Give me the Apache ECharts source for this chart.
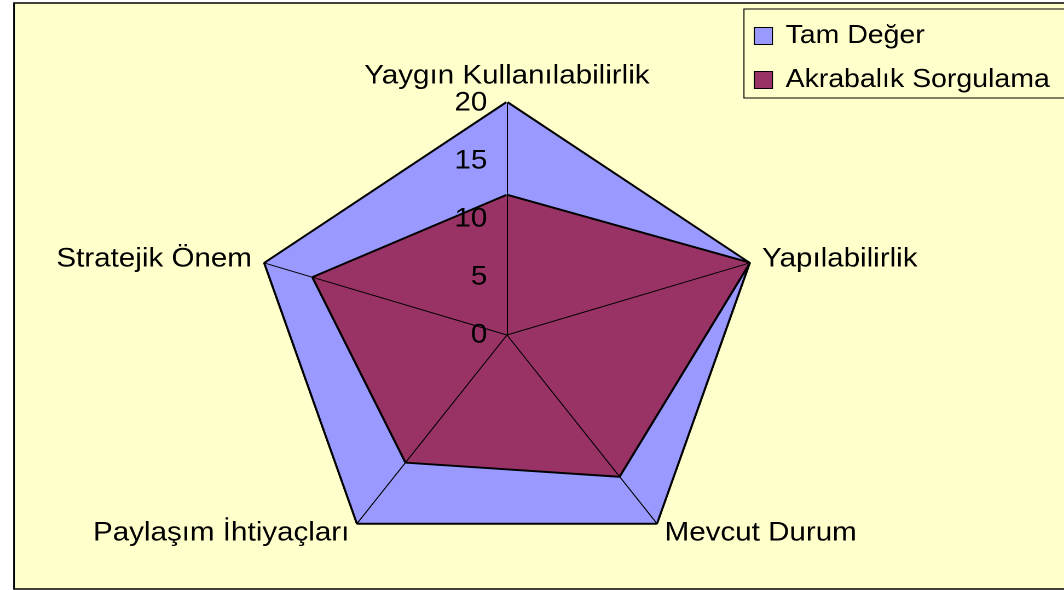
<!DOCTYPE html>
<html>
<head>
<meta charset="utf-8">
<script src="https://cdn.jsdelivr.net/npm/echarts@6/dist/echarts.min.js"></script>
<style>
  html, body { margin: 0; padding: 0; background: #ffffff; overflow: hidden; }
  #wrap { width: 1064px; height: 590px; overflow: hidden; }
  /* the reference picture is stretched horizontally by ~1.095 */
  #chart { width: 972px; height: 590px; transform: scaleX(1.0947); transform-origin: 0 0; }
</style>
</head>
<body>
<div id="wrap"><div id="chart"></div></div>
<script>
// Indicators in ECharts drawing order (counter-clockwise from top)
const categories = ['Yaygın Kullanılabilirlik', 'Stratejik Önem', 'Paylaşım İhtiyaçları', 'Mevcut Durum', 'Yapılabilirlik'];
const axisMax = 20;
const tickLabels = ['0', '5', '10', '15', '20'];
const seriesNames = ['Tam Değer', 'Akrabalık Sorgulama'];
const tamDeger = [20, 20, 20, 20, 20];
const akrabalik = [12, 16, 13.5, 15, 20];
const colors = ['#9999FF', '#993366'];

const FONT = '"Liberation Sans", Arial, sans-serif';

const chart = echarts.init(document.getElementById('chart'), null, { renderer: 'canvas', devicePixelRatio: 2 });

const indicator = categories.map((name, i) => {
  const ind = { name: name, max: axisMax, min: 0 };
  if (i === 0) {
    ind.axisLabel = {
      show: true,
      color: '#000',
      fontFamily: FONT,
      fontSize: 27,
      margin: 18,
      formatter: v => tickLabels[Math.round(v / 5)] || String(v)
    };
  }
  return ind;
});

const option = {
  backgroundColor: 'transparent',
  animation: false,
  graphic: [{
    type: 'rect',
    z: -10,
    shape: { x: 12.8, y: 3, width: 1100, height: 586 },
    style: { fill: '#FFFFCC', stroke: '#000', lineWidth: 1.5 }
  }],
  legend: {
    orient: 'vertical',
    left: 679.6,
    top: 9,
    padding: [14, 40, 5, 9],
    itemGap: 18,
    itemWidth: 16.5,
    itemHeight: 17,
    icon: 'rect',
    backgroundColor: '#FFFFCC',
    borderColor: '#000',
    borderWidth: 1,
    textStyle: { color: '#000', fontFamily: FONT, fontSize: 26, lineHeight: 26, padding: [0, 0, 0, 7] },
    data: seriesNames.map((n, i) => ({
      name: n,
      itemStyle: { color: colors[i], borderColor: '#000', borderWidth: 1 }
    }))
  },
  radar: {
    z: 10,
    center: [463.1, 335],
    radius: 232,
    startAngle: 90,
    shape: 'polygon',
    splitNumber: 4,
    indicator: indicator,
    axisName: {
      color: '#000',
      fontFamily: FONT,
      fontSize: 27
    },
    nameGap: 13,
    axisLine: { show: true, lineStyle: { color: '#000', width: 1 } },
    axisTick: { show: false },
    axisLabel: { show: false },
    splitLine: { show: false },
    splitArea: { show: false }
  },
  series: [{
    type: 'radar',
    z: 2,
    symbol: 'none',
    lineStyle: { color: '#000', width: 4, opacity: 1 },
    data: [
      {
        name: seriesNames[0],
        value: tamDeger,
        itemStyle: { color: colors[0] },
        lineStyle: { color: '#000', width: 4, opacity: 1 },
        areaStyle: { color: colors[0], opacity: 1 }
      },
      {
        name: seriesNames[1],
        value: akrabalik,
        itemStyle: { color: colors[1] },
        lineStyle: { color: '#000', width: 4, opacity: 1 },
        areaStyle: { color: colors[1], opacity: 1 }
      }
    ]
  }]
};

chart.setOption(option);
</script>
</body>
</html>
